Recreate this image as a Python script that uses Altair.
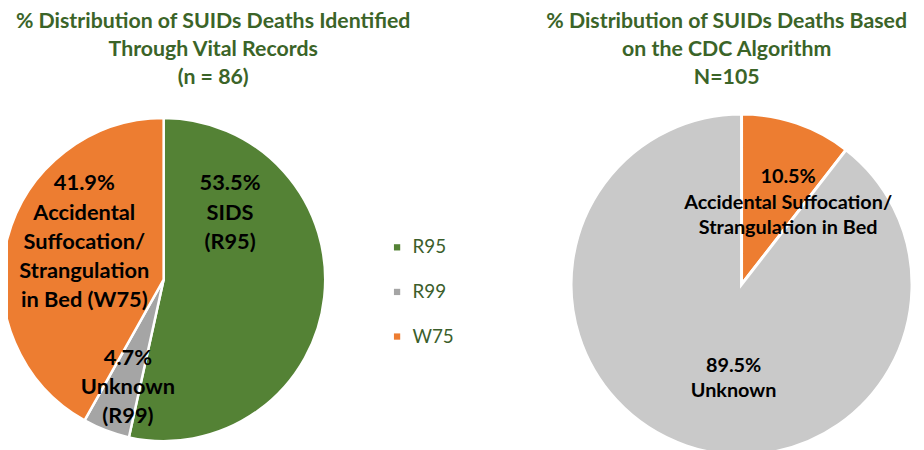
import altair as alt
import pandas as pd

# Left pie: vital records (n = 86)
left_codes = ["R95", "R99", "W75"]
left_pct = [53.5, 4.7, 41.9]
left_colors = ["#548235", "#A5A5A5", "#ED7D31"]

# Right pie: CDC algorithm (N = 105)
right_cats = ["Accidental Suffocation/Strangulation in Bed", "Unknown"]
right_pct = [10.5, 89.5]
right_colors = ["#ED7D31", "#C9C9C9"]

left_title = ["% Distribution of SUIDs Deaths Identified", "Through Vital Records", "(n = 86)"]
right_title = ["% Distribution of SUIDs Deaths Based", "on the CDC Algorithm", "N=105"]

left_df = pd.DataFrame({"code": left_codes, "pct": left_pct, "order": [0, 1, 2]})
right_df = pd.DataFrame({"cat": right_cats, "pct": right_pct, "order": [0, 1]})

FONT = "Lato"
TITLE_COLOR = "#3B6428"
OX, OY = 8, 8  # page margin


def P(x, y):
    return dict(x=alt.value(x - OX), y=alt.value(y - OY))


left_pie = alt.Chart(left_df).mark_arc(stroke="white", strokeWidth=2.5, radius=163).encode(
    theta=alt.Theta("pct:Q", stack=True),
    order=alt.Order("order:Q"),
    color=alt.Color(
        "code:N",
        scale=alt.Scale(domain=left_codes, range=left_colors),
        legend=alt.Legend(
            title=None, orient="none", legendX=383, legendY=230,
            symbolType="square", symbolSize=40, symbolStrokeWidth=0,
            labelFont=FONT, labelFontSize=19, labelColor="#3B5E2B",
            rowPadding=25, labelOffset=6,
        ),
    ),
    **P(165, 280),
)

right_pie = alt.Chart(right_df).mark_arc(stroke="white", strokeWidth=3, radius=172).encode(
    theta=alt.Theta("pct:Q", stack=True),
    order=alt.Order("order:Q"),
    color=alt.Color("cat:N", scale=alt.Scale(domain=right_cats, range=right_colors), legend=None),
    **P(748, 285),
)


def label(lines, x, y, size=22, lh=29.5, color="black", baseline="middle"):
    return alt.Chart(pd.DataFrame({"t": [lines]})).mark_text(
        font=FONT, fontSize=size, fontWeight="bold", color=color,
        lineHeight=lh, baseline=baseline, align="center",
    ).encode(text="t", **P(x, y))


layers = [
    left_pie,
    right_pie,
    label(left_title, 215, 20, size=21.5, lh=28.5, color=TITLE_COLOR),
    label(right_title, 733, 20, size=21.5, lh=28.5, color=TITLE_COLOR),
    label([f"{left_pct[0]}%", "SIDS", "(R95)"], 232, 183),
    label([f"{left_pct[2]}%", "Accidental", "Suffocation/", "Strangulation", "in Bed (W75)"], 85, 183),
    label([f"{left_pct[1]}%", "Unknown", "(R99)"], 129, 359),
    label([f"{right_pct[0]}%", "Accidental Suffocation/", "Strangulation in Bed"], 795, 177, size=20, lh=25.5),
    label([f"{right_pct[1]}%", "Unknown"], 740, 367, size=20, lh=25.5),
]

chart = alt.layer(*layers).resolve_scale(
    theta="independent", color="independent"
).properties(
    width=916, height=442, autosize="none", padding=0
).configure_view(stroke=None)

chart.save("out.html", embed_options={"renderer": "svg", "actions": False})
